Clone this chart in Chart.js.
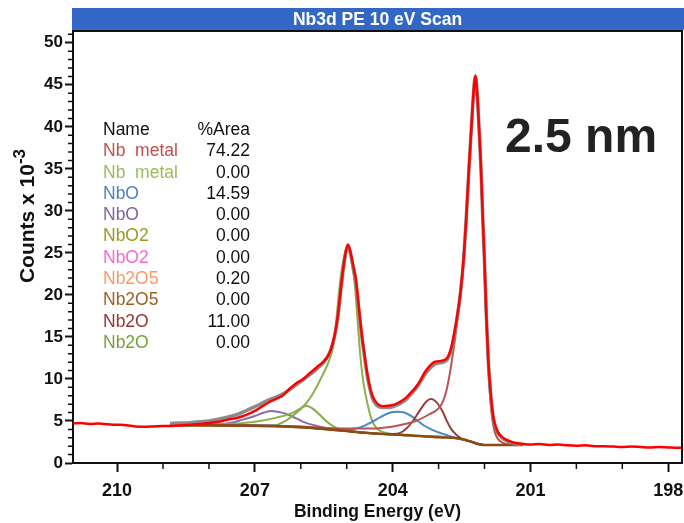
<!DOCTYPE html>
<html>
<head>
<meta charset="utf-8">
<script src="https://cdn.jsdelivr.net/npm/chart.js@4.4.1/dist/chart.umd.min.js"></script>
<style>
  body { margin: 0; background: #fff; }
  #wrap { position: relative; width: 684px; height: 523px; font-family: "Liberation Sans", Arial, sans-serif; }
  #chart { position: absolute; left: 0; top: 0; }
  #ytitle { position: absolute; left: -73px; top: 203px; width: 200px; height: 26px; line-height: 26px;
            text-align: center; transform: rotate(-90deg); font-weight: bold; font-size: 21px; color: #111; }
  #ytitle sup { font-size: 17px; vertical-align: 9px; line-height: 0; }
  #areas { position: absolute; left: 103px; top: 119px; width: 150px; font-size: 17.5px; }
  #areas div { position: relative; height: 21.3px; line-height: 21.3px; }
  #areas .v { position: absolute; right: 3px; top: 0; color: #111; }
  #thick { position: absolute; left: 505px; top: 108px; font-size: 48px; font-weight: bold; color: #222; }
</style>
</head>
<body>
<div id="wrap">
  <canvas id="chart" width="684" height="523"></canvas>
  <div id="ytitle">Counts x 10<sup>-3</sup></div>
  <div id="areas"></div>
  <div id="thick">2.5 nm</div>
</div>
<script>
// measured spectrum (binding energy in eV, counts x 1e-3)
const rawBE = [210.96, 210.8, 210.6, 210.4, 210.2, 210.0, 209.8, 209.6, 209.4, 209.2, 209.0, 208.8, 208.6, 208.4, 208.2, 208.0,
  207.8, 207.6, 207.4, 207.2, 207.0, 206.85, 206.7, 206.55, 206.4, 206.25, 206.1, 205.95, 205.8, 205.65, 205.5, 205.4, 205.33,
  205.26, 205.19, 205.12, 205.05, 204.98, 204.93, 204.87, 204.8, 204.74, 204.68, 204.62, 204.56, 204.5, 204.44, 204.37, 204.3,
  204.2, 204.1, 204.0, 203.9, 203.8, 203.7, 203.6, 203.5, 203.4, 203.3, 203.2, 203.1, 203.0, 202.9, 202.8, 202.72, 202.65,
  202.58, 202.52, 202.46, 202.4, 202.34, 202.28, 202.24, 202.2, 202.16, 202.12, 202.08, 202.04, 202.0, 201.96, 201.92, 201.88,
  201.84, 201.8, 201.75, 201.7, 201.62, 201.54, 201.45, 201.35, 201.2, 201.0, 200.8, 200.6, 200.4, 200.2, 200.0, 199.8, 199.6,
  199.4, 199.2, 199.0, 198.8, 198.6, 198.4, 198.2, 198.0, 197.8, 197.7];
const rawCounts = [4.7, 4.75, 4.65, 4.7, 4.6, 4.55, 4.5, 4.35, 4.3, 4.35, 4.4, 4.4, 4.5, 4.55, 4.65, 4.75,
  4.9, 5.15, 5.35, 5.7, 6.2, 6.7, 7.2, 7.6, 8.0, 8.8, 9.5, 10.0, 10.7, 11.4, 12.1, 12.8, 13.8,
  15.3, 17.7, 21.2, 24.2, 26.0, 25.4, 23.8, 21.8, 18.7, 15.7, 13.2, 10.9, 9.2, 8.0, 7.3, 6.9,
  6.75, 6.8, 6.9, 7.1, 7.4, 7.8, 8.4, 9.0, 9.8, 10.8, 11.5, 12.0, 12.1, 12.2, 12.6, 13.8, 15.7,
  18.0, 20.5, 24.0, 29.0, 35.0, 40.5, 44.0, 46.1, 44.0, 40.0, 35.5, 29.5, 24.0, 17.5, 12.5, 9.2,
  6.8, 5.2, 4.2, 3.6, 3.1, 2.8, 2.6, 2.4, 2.3, 2.2, 2.25, 2.15, 2.2, 2.1, 2.05, 2.1, 2.0,
  2.0, 1.95, 1.9, 1.95, 1.9, 1.85, 1.9, 1.85, 1.8, 1.8];

// fit envelope
const envBE = [208.85, 208.6, 208.4, 208.2, 208.0, 207.8, 207.6, 207.4, 207.2, 207.0, 206.85, 206.7, 206.55, 206.4, 206.25,
  206.1, 205.95, 205.8, 205.65, 205.5, 205.4, 205.33, 205.26, 205.19, 205.12, 205.05, 204.98, 204.93, 204.87, 204.8, 204.74,
  204.68, 204.62, 204.56, 204.5, 204.44, 204.37, 204.3, 204.2, 204.1, 204.0, 203.9, 203.8, 203.7, 203.6, 203.5, 203.4, 203.3,
  203.2, 203.1, 203.0, 202.9, 202.8, 202.72, 202.65, 202.58, 202.52, 202.46, 202.4, 202.34, 202.28, 202.24, 202.2, 202.16,
  202.12, 202.08, 202.04, 202.0, 201.96, 201.92, 201.88, 201.84, 201.8, 201.75, 201.7, 201.62, 201.54, 201.45, 201.35, 201.2];
const envCounts = [4.7, 4.75, 4.8, 4.9, 5.0, 5.2, 5.45, 5.75, 6.2, 6.7, 7.1, 7.5, 7.8, 8.2, 8.7,
  9.3, 9.9, 10.5, 11.2, 12.0, 12.8, 13.7, 15.2, 17.5, 21.0, 24.0, 25.7, 25.2, 23.6, 21.5, 18.4,
  15.4, 12.9, 10.6, 8.9, 7.7, 7.0, 6.7, 6.6, 6.6, 6.7, 6.9, 7.2, 7.6, 8.2, 8.8, 9.6, 10.5,
  11.2, 11.7, 11.9, 12.0, 12.4, 13.6, 15.5, 17.9, 20.4, 23.9, 28.9, 34.9, 40.4, 43.9, 46.0, 43.9,
  39.9, 35.4, 29.4, 23.9, 17.4, 12.4, 9.1, 6.7, 5.1, 4.1, 3.5, 3.0, 2.7, 2.5, 2.3, 2.2];

// Shirley background
const bgBE = [208.85, 208.0, 207.3, 206.6, 206.0, 205.5, 205.0, 204.6, 204.2, 203.8, 203.4, 203.0, 202.6, 202.45, 202.3, 202.15, 202.0, 201.6, 201.17];
const bgCounts = [4.5, 4.5, 4.45, 4.4, 4.25, 4.05, 3.8, 3.6, 3.45, 3.35, 3.2, 3.05, 2.95, 2.8, 2.55, 2.25, 2.15, 2.15, 2.15];

// Nb metal 3d5/2
const metal52BE = [208.85, 207.0, 206.0, 205.0, 204.5, 204.2, 203.85, 203.5, 203.2, 203.0, 202.9, 202.83, 202.76, 202.7, 202.64,
  202.58, 202.52, 202.46, 202.4, 202.34, 202.28, 202.24, 202.2, 202.16, 202.12, 202.08, 202.04, 202.0, 201.96, 201.92, 201.88,
  201.84, 201.8, 201.75, 201.7, 201.6, 201.45, 201.17];
const metal52Counts = [4.5, 4.45, 4.35, 4.1, 4.1, 4.2, 4.5, 5.0, 5.8, 6.5, 7.4, 8.6, 10.5, 12.6, 14.8,
  17.5, 20.0, 23.5, 28.6, 34.6, 40.0, 43.5, 45.6, 43.5, 39.5, 35.0, 29.0, 23.0, 16.5, 11.5, 8.0,
  5.6, 4.2, 3.3, 2.8, 2.4, 2.2, 2.15];

// Nb metal 3d3/2
const metal32BE = [208.85, 208.0, 207.4, 207.0, 206.53, 206.17, 205.9, 205.7, 205.55, 205.45, 205.37, 205.3, 205.26, 205.22,
  205.15, 205.08, 205.02, 204.97, 204.92, 204.87, 204.83, 204.77, 204.72, 204.66, 204.6, 204.53, 204.46, 204.36, 204.22, 204.0,
  203.4, 202.6, 202.3, 202.0, 201.17];
const metal32Counts = [4.5, 4.55, 4.7, 4.9, 5.4, 6.0, 7.0, 8.6, 10.2, 11.3, 12.4, 13.7, 15.2, 17.4,
  21.3, 24.0, 25.3, 25.5, 24.7, 23.0, 21.5, 17.5, 13.8, 10.5, 8.4, 6.6, 5.2, 4.2, 3.7, 3.45,
  3.2, 2.95, 2.55, 2.15, 2.15];

// NbO 3d5/2
const nbo52BE = [208.85, 207.0, 206.0, 205.5, 205.0, 204.8, 204.65, 204.5, 204.35, 204.2, 204.05, 203.9, 203.75, 203.6, 203.45,
  203.3, 203.1, 202.9, 202.7, 202.5, 202.3, 202.0, 201.17];
const nbo52Counts = [4.55, 4.5, 4.3, 4.1, 4.0, 4.1, 4.35, 4.75, 5.2, 5.65, 6.0, 6.1, 6.0, 5.6, 5.0,
  4.4, 3.85, 3.45, 3.1, 2.85, 2.55, 2.15, 2.15];

// NbO 3d3/2
const nbo32BE = [208.85, 208.0, 207.6, 207.3, 207.0, 206.8, 206.65, 206.5, 206.3, 206.1, 205.9, 205.6, 205.4, 205.0, 204.6,
  204.2, 203.4, 202.6, 202.3, 202.0, 201.17];
const nbo32Counts = [4.5, 4.55, 4.7, 5.1, 5.6, 6.0, 6.2, 6.1, 5.8, 5.3, 4.8, 4.35, 4.1, 3.8, 3.6,
  3.45, 3.2, 2.95, 2.55, 2.15, 2.15];

// Nb2O5 3d5/2
const nb2o5BE = [208.85, 208.0, 207.7, 207.5, 207.3, 207.0, 206.0, 205.0, 204.2, 203.4, 202.6, 202.3, 202.0, 201.17];
const nb2o5Counts = [4.5, 4.55, 4.65, 4.7, 4.6, 4.45, 4.25, 3.8, 3.45, 3.2, 2.95, 2.55, 2.15, 2.15];

// Nb2O 3d5/2
const nb2o52BE = [208.85, 206.0, 205.0, 204.2, 204.0, 203.85, 203.7, 203.56, 203.45, 203.34, 203.25, 203.16, 203.08, 203.0,
  202.9, 202.83, 202.72, 202.62, 202.5, 202.3, 202.0, 201.17];
const nb2o52Counts = [4.5, 4.25, 3.8, 3.45, 3.45, 3.55, 4.1, 5.0, 5.9, 6.8, 7.4, 7.6, 7.4, 6.9,
  6.0, 5.1, 4.0, 3.4, 2.9, 2.55, 2.15, 2.15];

// Nb2O 3d3/2
const nb2o32BE = [208.85, 207.0, 206.6, 206.4, 206.2, 206.05, 205.88, 205.75, 205.6, 205.45, 205.3, 205.15, 204.9, 204.6,
  204.2, 203.4, 202.6, 202.3, 202.0, 201.17];
const nb2o32Counts = [4.5, 4.45, 4.45, 4.8, 5.5, 6.2, 6.8, 6.5, 5.8, 5.0, 4.4, 4.0, 3.75, 3.6,
  3.45, 3.2, 2.95, 2.55, 2.15, 2.15];

// quantification table
const compNames = ['Nb  metal', 'Nb  metal', 'NbO', 'NbO', 'NbO2', 'NbO2', 'Nb2O5', 'Nb2O5', 'Nb2O', 'Nb2O'];
const compAreas = ['74.22', '0.00', '14.59', '0.00', '0.00', '0.00', '0.20', '0.00', '11.00', '0.00'];
const compColors = ['#c0504d', '#9bbb59', '#4f81bd', '#8064a2', '#9a9a1e', '#ff66cc', '#fa9a6a', '#a0601e', '#953735', '#77a03c'];

const yTicks = { min: 0, max: 51.4, step: 5 };
const xTicks = { min: 197.7, max: 210.96, step: 3 };

const table = document.getElementById('areas');
table.innerHTML = '<div style="color:#111">Name<span class="v">%Area</span></div>' +
  compNames.map((n, i) =>
    '<div style="color:' + compColors[i] + '">' + n.replace(/ /g, '&nbsp;') + '<span class="v">' + compAreas[i] + '</span></div>'
  ).join('');

function pts(be, counts) {
  return be.map((b, i) => ({ x: b, y: counts[i] }));
}

function curve(be, counts, color, width, order) {
  return {
    data: pts(be, counts),
    borderColor: color,
    borderWidth: width,
    pointRadius: 0,
    fill: false,
    cubicInterpolationMode: 'monotone',
    order: order
  };
}

const frame = {
  id: 'frame',
  beforeDraw(chart) {
    const c = chart.ctx, a = chart.chartArea;
    c.save();
    c.fillStyle = '#3267c6';
    c.fillRect(a.left - 1, 8, chart.width - a.left + 1, 22);
    c.fillStyle = '#fff';
    c.font = 'bold 17.5px "Liberation Sans", Arial, sans-serif';
    c.textAlign = 'center';
    c.textBaseline = 'middle';
    c.fillText('Nb3d PE 10 eV Scan', (a.left + a.right) / 2, 20);
    c.restore();
  },
  afterDraw(chart) {
    const c = chart.ctx, a = chart.chartArea;
    const xs = chart.scales.x, ys = chart.scales.y;
    c.save();
    c.strokeStyle = '#111';
    c.lineWidth = 2;
    c.beginPath();
    c.moveTo(a.left, a.top);
    c.lineTo(a.right, a.top);
    c.lineTo(a.right, a.bottom);
    c.stroke();
    // minor ticks
    c.lineWidth = 1.5;
    c.beginPath();
    for (let v = Math.ceil(xTicks.min); v <= xTicks.max; v++) {
      if (v % xTicks.step === 0) continue;
      const px = xs.getPixelForValue(v);
      c.moveTo(px, a.bottom);
      c.lineTo(px, a.bottom + 6);
    }
    for (let v = 1; v <= yTicks.max; v++) {
      if (v % yTicks.step === 0) continue;
      const py = ys.getPixelForValue(v);
      c.moveTo(a.left, py);
      c.lineTo(a.left - 5, py);
    }
    c.stroke();
    c.restore();
  }
};

new Chart(document.getElementById('chart'), {
  type: 'line',
  data: {
    datasets: [
      curve(rawBE, rawCounts, '#ff0000', 2.5, 0),
      curve(envBE, envCounts, '#8c8c8c', 3.5, 1),
      curve(bgBE, bgCounts, '#8b4c14', 2.5, 2),
      curve(metal52BE, metal52Counts, '#b65652', 2, 3),
      curve(nb2o52BE, nb2o52Counts, '#98403e', 2, 3),
      curve(nbo52BE, nbo52Counts, '#4a86c8', 2, 4),
      curve(metal32BE, metal32Counts, '#8db04c', 2, 4),
      curve(nb2o32BE, nb2o32Counts, '#86ab4a', 2, 4),
      curve(nbo32BE, nbo32Counts, '#8a6bb0', 2, 5),
      curve(nb2o5BE, nb2o5Counts, '#f5a070', 2, 6)
    ]
  },
  options: {
    responsive: false,
    animation: false,
    layout: { padding: { top: 31, right: 2, left: 0, bottom: 0 } },
    plugins: { legend: { display: false }, tooltip: { enabled: false } },
    scales: {
      x: {
        type: 'linear',
        reverse: true,
        min: xTicks.min,
        max: xTicks.max,
        afterFit: s => { s.height = 60; s.paddingLeft = 0; s.paddingRight = 0; },
        ticks: {
          stepSize: xTicks.step, includeBounds: false, maxRotation: 0, padding: 8, color: '#111',
          font: { family: '"Liberation Sans", Arial, sans-serif', size: 18, weight: 'bold' }
        },
        grid: { drawOnChartArea: false, tickLength: 9, tickWidth: 2, tickColor: '#111' },
        border: { color: '#111', width: 2 },
        title: {
          display: true, text: 'Binding Energy (eV)', color: '#111', padding: { top: 0, bottom: 0 },
          font: { family: '"Liberation Sans", Arial, sans-serif', size: 17.5, weight: 'bold' }
        }
      },
      y: {
        min: yTicks.min,
        max: yTicks.max,
        afterFit: s => { s.width = 73; s.paddingTop = 0; s.paddingBottom = 0; },
        ticks: {
          stepSize: yTicks.step, includeBounds: false, padding: 2, color: '#111',
          font: { family: '"Liberation Sans", Arial, sans-serif', size: 17, weight: 'bold' }
        },
        grid: { drawOnChartArea: false, tickLength: 8, tickWidth: 2, tickColor: '#111' },
        border: { color: '#111', width: 2 }
      }
    }
  },
  plugins: [frame]
});
</script>
</body>
</html>
